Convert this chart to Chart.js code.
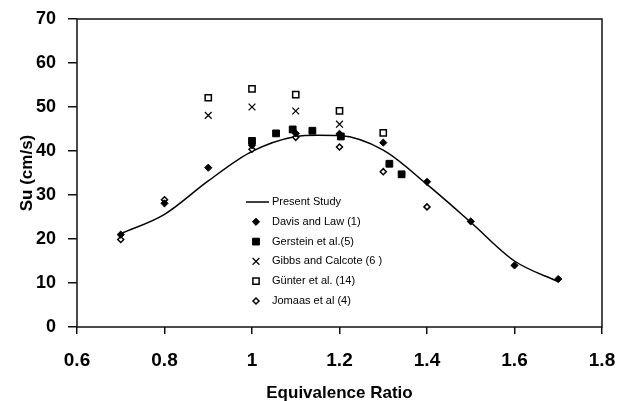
<!DOCTYPE html>
<html lang="en">
<head>
<meta charset="UTF-8">
<title>Su vs Equivalence Ratio</title>
<script src="https://cdn.jsdelivr.net/npm/chart.js@4.4.1/dist/chart.umd.min.js"></script>
<style>
  html, body { margin: 0; padding: 0; background: #fff; }
</style>
</head>
<body>
<canvas id="suChart" width="619" height="401"></canvas>
<script>
  // axis ticks
  const xTicks = [0.6, 0.8, 1, 1.2, 1.4, 1.6, 1.8];
  const yTicks = [0, 10, 20, 30, 40, 50, 60, 70];

  // present study (smoothed curve)
  const presentPhi = [0.7, 0.8, 0.9, 1.0, 1.1, 1.15, 1.2, 1.3, 1.4, 1.5, 1.6, 1.7];
  const presentSu = [21.2, 25.6, 33.2, 39.9, 43.3, 43.6, 43.5, 40.2, 32.4, 23.8, 15.0, 10.3];

  // Davis and Law (1)
  const davisPhi = [0.7, 0.8, 0.9, 1.0, 1.1, 1.2, 1.3, 1.4, 1.5, 1.6, 1.7];
  const davisSu = [21.0, 28.1, 36.2, 41.3, 44.0, 43.9, 41.9, 33.0, 24.0, 14.0, 10.9];

  // Gerstein et al. (5)
  const gersteinPhi = [1.0, 1.055, 1.093, 1.138, 1.203, 1.314, 1.342];
  const gersteinSu = [42.3, 44.0, 44.9, 44.6, 43.3, 37.1, 34.7];

  // Gibbs and Calcote (6)
  const gibbsPhi = [0.9, 1.0, 1.1, 1.2];
  const gibbsSu = [48.1, 50.0, 49.1, 46.1];

  // Günter et al. (14)
  const gunterPhi = [0.9, 1.0, 1.1, 1.2, 1.3];
  const gunterSu = [52.1, 54.1, 52.8, 49.1, 44.1];

  // Jomaas et al (4)
  const jomaasPhi = [0.7, 0.8, 1.0, 1.1, 1.2, 1.3, 1.4];
  const jomaasSu = [19.9, 28.9, 40.4, 43.1, 40.9, 35.3, 27.3];

  const toPoints = (xs, ys) => xs.map((x, i) => ({ x: x, y: ys[i] }));

  const FONT = '"Liberation Sans", Arial, Helvetica, sans-serif';

  // box round the plot area
  const frame = {
    id: 'frame',
    beforeDatasetsDraw(chart) {
      const { ctx, chartArea: a } = chart;
      ctx.save();
      ctx.strokeStyle = '#111';
      ctx.lineWidth = 1.5;
      ctx.strokeRect(a.left, a.top, a.right - a.left, a.bottom - a.top);
      ctx.restore();
    }
  };

  // legend drawn inside the plot
  const insideLegend = {
    id: 'insideLegend',
    afterDraw(chart) {
      const { ctx, chartArea: a } = chart;
      const x0 = a.left + 169;
      const y0 = a.top + 183;
      const rowH = 19.8;
      ctx.save();
      ctx.font = '11px ' + FONT;
      ctx.textBaseline = 'middle';
      ctx.textAlign = 'left';
      chart.data.datasets.forEach((ds, i) => {
        const y = y0 + i * rowH;
        if (ds.showLine) {
          ctx.strokeStyle = ds.borderColor;
          ctx.lineWidth = ds.borderWidth;
          ctx.beginPath();
          ctx.moveTo(x0, y);
          ctx.lineTo(x0 + 23, y);
          ctx.stroke();
        } else {
          ctx.fillStyle = ds.backgroundColor;
          ctx.strokeStyle = ds.borderColor;
          ctx.lineWidth = ds.borderWidth;
          Chart.helpers.drawPoint(ctx, {
            pointStyle: ds.pointStyle,
            radius: ds.pointRadius,
            borderWidth: ds.borderWidth,
            rotation: 0
          }, x0 + 10, y);
        }
        ctx.fillStyle = '#000';
        ctx.fillText(ds.label, x0 + 26, y);
      });
      ctx.restore();
    }
  };

  const ctx = document.getElementById('suChart');

  const suChart = new Chart(ctx, {
    type: 'scatter',
    data: {
      datasets: [{
        label: 'Present Study',
        data: toPoints(presentPhi, presentSu),
        showLine: true,
        cubicInterpolationMode: 'monotone',
        borderColor: '#000',
        borderWidth: 1.5,
        pointRadius: 0,
        order: 6
      }, {
        label: 'Davis and Law (1)',
        data: toPoints(davisPhi, davisSu),
        pointStyle: 'rectRot',
        pointRadius: 3.6,
        backgroundColor: '#000',
        borderColor: '#000',
        borderWidth: 1
      }, {
        label: 'Gerstein et al.(5)',
        data: toPoints(gersteinPhi, gersteinSu),
        pointStyle: 'rect',
        pointRadius: 4.8,
        backgroundColor: '#000',
        borderColor: '#000',
        borderWidth: 1
      }, {
        label: 'Gibbs and Calcote (6 )',
        data: toPoints(gibbsPhi, gibbsSu),
        pointStyle: 'crossRot',
        pointRadius: 4.8,
        backgroundColor: '#000',
        borderColor: '#000',
        borderWidth: 1.2
      }, {
        label: 'Günter et al. (14)',
        data: toPoints(gunterPhi, gunterSu),
        pointStyle: 'rect',
        pointRadius: 4.4,
        backgroundColor: '#fff',
        borderColor: '#000',
        borderWidth: 1.5
      }, {
        label: 'Jomaas et al (4)',
        data: toPoints(jomaasPhi, jomaasSu),
        pointStyle: 'rectRot',
        pointRadius: 3,
        backgroundColor: '#fff',
        borderColor: '#000',
        borderWidth: 1.5
      }]
    },
    options: {
      responsive: false,
      animation: false,
      devicePixelRatio: 1,
      layout: { padding: { top: 19, right: 17, left: 0, bottom: 0 } },
      plugins: {
        legend: { display: false },
        tooltip: { enabled: false }
      },
      scales: {
        x: {
          type: 'linear',
          min: 0.6,
          max: 1.8,
          afterBuildTicks: (s) => { s.ticks = xTicks.map(v => ({ value: v })); },
          afterFit: (s) => {
            s.height = 74;
            s.paddingLeft = 0;
            s.paddingRight = 0;
          },
          border: { display: false },
          grid: { drawOnChartArea: false, drawTicks: true, tickLength: 7, color: '#111', lineWidth: 1.5 },
          ticks: {
            padding: 15,
            color: '#000',
            font: { family: FONT, size: 19, weight: 'bold' },
            callback: (v) => String(v)
          },
          title: {
            display: true,
            text: 'Equivalence Ratio',
            color: '#000',
            font: { family: FONT, size: 17, weight: 'bold', lineHeight: 0.85 },
            padding: { top: 0, bottom: 0 }
          }
        },
        y: {
          type: 'linear',
          min: 0,
          max: 70,
          afterBuildTicks: (s) => { s.ticks = yTicks.map(v => ({ value: v })); },
          afterFit: (s) => {
            s.width = 77;
            s.paddingTop = 0;
            s.paddingBottom = 0;
          },
          border: { display: false },
          grid: { drawOnChartArea: false, drawTicks: true, tickLength: 9, color: '#111', lineWidth: 1.5 },
          ticks: {
            padding: 12,
            color: '#000',
            font: { family: FONT, size: 18, weight: 'bold' },
            callback: (v) => String(v)
          },
          title: {
            display: true,
            text: 'Su (cm/s)',
            color: '#000',
            font: { family: FONT, size: 17, weight: 'bold', lineHeight: 1 },
            padding: { top: 19, bottom: 0 }
          }
        }
      }
    },
    plugins: [frame, insideLegend]
  });
</script>
</body>
</html>
